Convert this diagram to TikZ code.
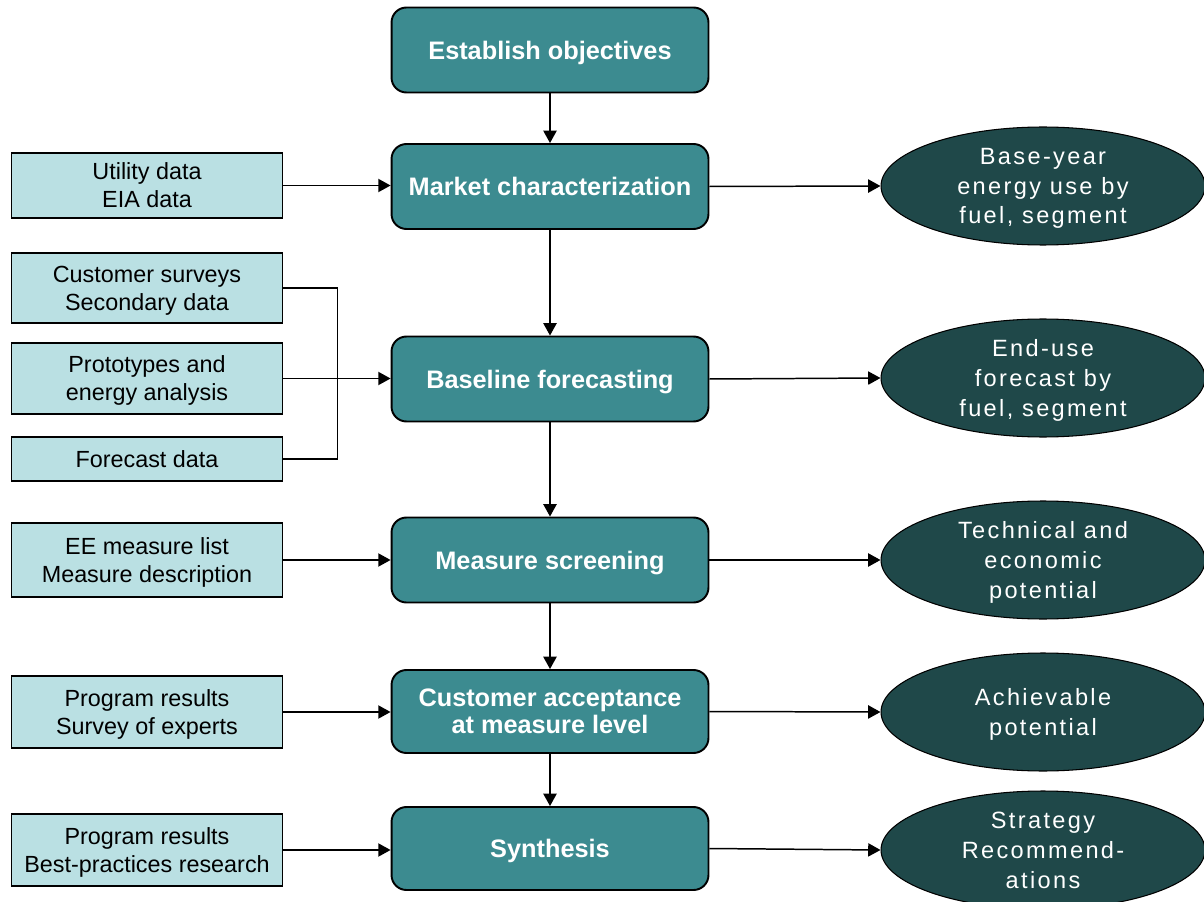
\documentclass[tikz,border=0pt]{standalone}
\usepackage{fontspec}
\setmainfont{Liberation Sans}
\newfontfamily\spacedfont[LetterSpace=10]{Liberation Sans}
\usetikzlibrary{arrows.meta,shapes.geometric}

\definecolor{stagefill}{HTML}{3C8B90}
\definecolor{sourcefill}{HTML}{BAE0E3}
\definecolor{resultfill}{HTML}{1F4849}

\tikzset{
  stage/.style={draw,line width=1.1pt,fill=stagefill,rounded corners=8.5pt,
    minimum width=6.34cm,minimum height=1.7cm,inner sep=0,align=center,text depth=-2.6pt,
    text=white,font=\fontsize{14.4}{15.3}\selectfont\bfseries},
  source/.style={draw,line width=.9pt,fill=sourcefill,minimum width=5.42cm,
    inner sep=0,align=center,text depth=-3.2pt,font=\fontsize{13.3}{15.9}\selectfont},
  result/.style={ellipse,draw,line width=.6pt,fill=resultfill,
    minimum width=6.48cm,minimum height=2.36cm,inner sep=0,align=center,text depth=-3.6pt,
    text=white,font=\spacedfont\fontsize{13.4}{17}\selectfont},
}

\begin{document}
\begin{tikzpicture}[x=.02cm,y=-.02cm,>={Triangle[length=7pt,width=7.5pt]},line width=.85pt]
  \useasboundingbox (0,0) rectangle (1204,902);

  % main steps
  \node[stage] (objectives) at (550,50) {Establish objectives};
  \node[stage] (market) at (550,186.5) {Market characterization};
  \node[stage] (baseline) at (550,379) {Baseline forecasting};
  \node[stage] (screening) at (550,560) {Measure screening};
  \node[stage,minimum height=1.66cm] (acceptance) at (550,711.5) {Customer acceptance\\at measure level};
  \node[stage,minimum height=1.66cm] (synthesis) at (550,848.5) {Synthesis};

  % inputs
  \node[source,minimum height=1.3cm] (utility) at (147,185.5) {Utility data\\EIA data};
  \node[source,minimum height=1.4cm] (surveys) at (147,288) {Customer surveys\\Secondary data};
  \node[source,minimum height=1.42cm] (prototypes) at (147,378.5) {Prototypes and\\energy analysis};
  \node[source,minimum height=.88cm] (fcdata) at (147,459) {Forecast data};
  \node[source,minimum height=1.48cm] (measures) at (147,560) {EE measure list\\Measure description};
  \node[source,minimum height=1.44cm] (programs) at (147,712) {Program results\\Survey of experts};
  \node[source,minimum height=1.44cm] (practices) at (147,850) {Program results\\Best-practices research};

  % outputs
  \node[result] (baseuse) at (1043,186) {Base-year\\energy use by\\fuel, segment};
  \node[result] (enduse) at (1043,378) {End-use\\forecast by\\fuel, segment};
  \node[result] (techpot) at (1043,560) {Technical and\\economic\\potential};
  \node[result] (achpot) at (1043,712) {Achievable\\potential};
  \node[result] (strategy) at (1043,850) {Strategy\\Recommend-\\ations};

  \draw[->] (objectives) -- (market);
  \draw[->] (market) -- (baseline);
  \draw[->] (baseline) -- (screening);
  \draw[->] (screening) -- (acceptance);
  \draw[->] (acceptance) -- (synthesis);

  \draw[->] (utility.east) -- (utility.east -| market.west);
  \draw (surveys.east) -- ++(54,0) |- (fcdata.east);
  \draw[->] (prototypes.east) -- (prototypes.east -| baseline.west);
  \draw[->] (measures.east) -- (measures.east -| screening.west);
  \draw[->] (programs.east) -- (programs.east -| acceptance.west);
  \draw[->] (practices.east) -- (practices.east -| synthesis.west);

  \draw[->] (market.east) -- (baseuse.west);
  \draw[->] (baseline.east) -- (enduse.west);
  \draw[->] (screening.east) -- (techpot.west);
  \draw[->] (acceptance.east) -- (achpot.west);
  \draw[->] (synthesis.east) -- (strategy.west);
\end{tikzpicture}
\end{document}
